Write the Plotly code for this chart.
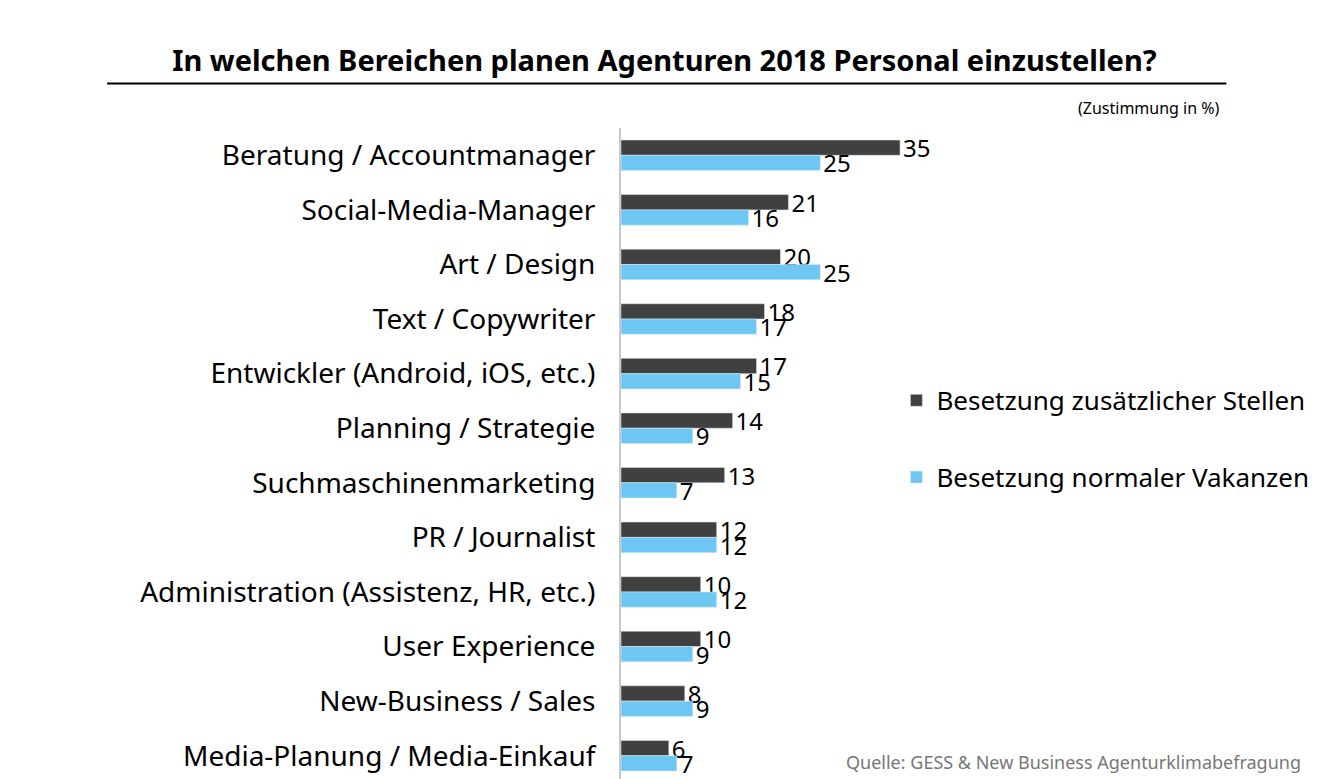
import plotly.graph_objects as go

categories = ["Beratung / Accountmanager", "Social-Media-Manager", "Art / Design",
              "Text / Copywriter", "Entwickler (Android, iOS, etc.)", "Planning / Strategie",
              "Suchmaschinenmarketing", "PR / Journalist", "Administration (Assistenz, HR, etc.)",
              "User Experience", "New-Business / Sales", "Media-Planung / Media-Einkauf"]
zusaetzlich = [35, 21, 20, 18, 17, 14, 13, 12, 10, 10, 8, 6]
vakanzen = [25, 16, 25, 17, 15, 9, 7, 12, 12, 9, 9, 7]

font = "Noto Sans"
fig = go.Figure()
fig.add_trace(go.Bar(y=categories, x=zusaetzlich, orientation="h", name="Besetzung zusätzlicher Stellen",
                     marker_color="#404040", text=zusaetzlich, textposition="outside",
                     constraintext="none", textfont=dict(size=24, color="#000"),
                     cliponaxis=False, legendgroup="a"))
fig.add_trace(go.Bar(y=categories, x=vakanzen, orientation="h", name="Besetzung normaler Vakanzen",
                     marker_color="#6ec6f3", text=vakanzen, textposition="outside",
                     constraintext="none", textfont=dict(size=24, color="#000"),
                     cliponaxis=False, legendgroup="b"))

fig.update_layout(
    width=1326, height=779, barmode="group", bargap=0.44, bargroupgap=0,
    margin=dict(l=613, r=127, t=120, b=4),
    paper_bgcolor="white", plot_bgcolor="white",
    font=dict(family=font, color="#000"),
    title=dict(text="<b>In welchen Bereichen planen Agenturen 2018 Personal einzustellen?</b>",
               x=0.495, xanchor="center", y=0.945, font=dict(size=29)),
    xaxis=dict(range=[0, 73.5], visible=False),
    yaxis=dict(autorange="reversed", tickfont=dict(size=28), ticks="outside", ticklen=18,
               tickcolor="rgba(0,0,0,0)", showline=True, linecolor="#c8c8c8", linewidth=2),
    legend=dict(x=0.47, y=0.62, xanchor="left", yanchor="top", font=dict(size=26),
                tracegroupgap=40, bgcolor="rgba(0,0,0,0)"),
    shapes=[dict(type="line", xref="paper", yref="paper", x0=-0.877, x1=1.033,
                 y0=1.068, y1=1.068, line=dict(color="#000", width=2))],
    annotations=[
        dict(text="(Zustimmung in %)", xref="paper", yref="paper", x=1.025, y=1.01,
             xanchor="right", yanchor="bottom", showarrow=False, font=dict(size=16)),
        dict(text="Quelle: GESS & New Business Agenturklimabefragung", xref="paper", yref="paper",
             x=1.163, y=0.01, xanchor="right", yanchor="bottom", showarrow=False,
             font=dict(size=18, color="#777")),
    ],
)
fig.write_html("out.html")
